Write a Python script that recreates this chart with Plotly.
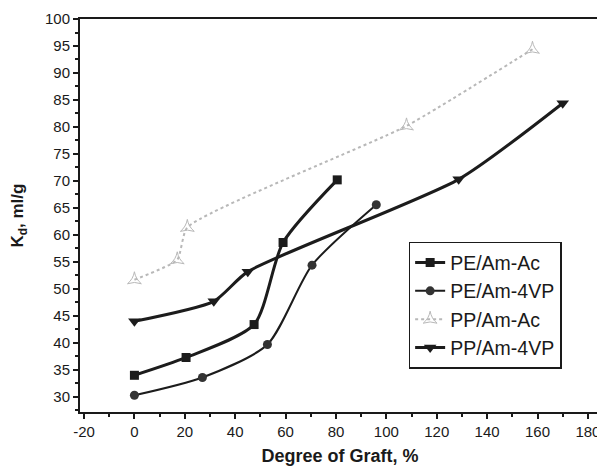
import plotly.graph_objects as go

# Data
pe_ac_x = [0, 20.5, 47.5, 59, 80.5]
pe_ac_y = [34.0, 37.3, 43.4, 58.6, 70.2]

pe_4vp_x = [0, 27, 52.8, 70.5, 96]
pe_4vp_y = [30.3, 33.6, 39.7, 54.4, 65.6]

pp_ac_x = [0, 17, 21, 108, 158]
pp_ac_y = [51.7, 55.4, 61.4, 80.2, 94.4]

pp_4vp_x = [0, 31.5, 45, 128.7, 170]
pp_4vp_y = [44.0, 47.7, 53.2, 70.3, 84.4]

x_ticks = [-20, 0, 20, 40, 60, 80, 100, 120, 140, 160, 180]
y_ticks = [30, 35, 40, 45, 50, 55, 60, 65, 70, 75, 80, 85, 90, 95, 100]

dark = "#1c1c1c"
gray = "#b8b8b8"

fig = go.Figure()
fig.add_trace(go.Scatter(
    x=pe_ac_x, y=pe_ac_y, name="PE/Am-Ac", mode="lines+markers",
    line=dict(color=dark, width=3, shape="spline", smoothing=0.7),
    marker=dict(symbol="square", size=9, color=dark)))
fig.add_trace(go.Scatter(
    x=pe_4vp_x, y=pe_4vp_y, name="PE/Am-4VP", mode="lines+markers",
    line=dict(color=dark, width=2, shape="spline", smoothing=0.7),
    marker=dict(symbol="circle", size=9, color="#333333")))
fig.add_trace(go.Scatter(
    x=pp_ac_x, y=pp_ac_y, name="PP/Am-Ac", mode="lines+markers",
    line=dict(color=gray, width=2, shape="spline", smoothing=0.5, dash="dot"),
    marker=dict(symbol="star-triangle-up-open", size=10, color=gray, line=dict(width=1))))
fig.add_trace(go.Scatter(
    x=pp_4vp_x, y=pp_4vp_y, name="PP/Am-4VP", mode="lines+markers",
    line=dict(color=dark, width=3, shape="spline", smoothing=0.6),
    marker=dict(symbol="triangle-down", size=11, color=dark)))

axis_font = dict(family="Liberation Sans, Arial, sans-serif", size=15, color="#1a1a1a")

# page body has an 8px margin, so the figure is sized to the visible area
fig.update_layout(
    width=597, height=463,
    margin=dict(l=72, r=5, t=11, b=59),
    paper_bgcolor="white", plot_bgcolor="white",
    font=axis_font,
    showlegend=True,
    legend=dict(
        x=0.632, y=0.433, xanchor="left", yanchor="top",
        bordercolor="#1a1a1a", borderwidth=1.5, bgcolor="white",
        font=dict(family="Liberation Sans, Arial, sans-serif", size=19.5, color="#1a1a1a"),
        tracegroupgap=0, itemsizing="trace"),
    xaxis=dict(
        range=[-21.6, 184.8], tickvals=x_ticks, ticktext=[str(v) for v in x_ticks],
        automargin=False,
        showgrid=False, zeroline=False, showline=True, linecolor="#1a1a1a", linewidth=2,
        mirror=True, ticks="outside", ticklen=5, tickwidth=1.5, tickcolor="#1a1a1a",
        minor=dict(dtick=10, ticks="outside", ticklen=3, tickcolor="#1a1a1a"),
        title=dict(text="<b>Degree of Graft, %</b>", font=dict(size=18), standoff=10),
    ),
    yaxis=dict(
        range=[27.2, 100], tickvals=y_ticks, ticktext=[str(v) for v in y_ticks],
        automargin=False,
        showgrid=False, zeroline=False, showline=True, linecolor="#1a1a1a", linewidth=2,
        mirror=False, ticks="outside", ticklen=5, tickwidth=1.5, tickcolor="#1a1a1a",
        minor=dict(dtick=2.5, ticks="outside", ticklen=3, tickcolor="#1a1a1a"),
        title=dict(text="<b>K<sub>d</sub>, ml/g</b>", font=dict(size=17), standoff=18),
    ),
)

fig.write_html("out.html")
